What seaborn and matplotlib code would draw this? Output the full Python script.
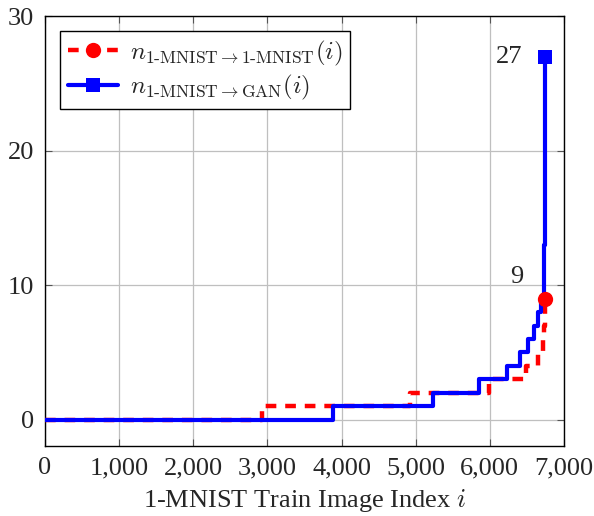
import numpy as np
import pandas as pd
import seaborn as sns
import matplotlib
matplotlib.use('Agg')
import matplotlib.pyplot as plt
from matplotlib.lines import Line2D
from matplotlib.ticker import FuncFormatter

# step curves (index where each new count starts)
mnist_idx = [0, 2930, 4920, 5990, 6490, 6645, 6710, 6730, 6737, 6742]
mnist_n = [0, 1, 2, 3, 4, 5, 6, 7, 8, 9]

gan_idx = [0, 3890, 5230, 5860, 6230, 6400, 6510, 6590, 6645, 6690, 6725, 6734, 6738, 6740, 6742]
gan_n = [0, 1, 2, 3, 4, 5, 6, 7, 8, 9, 11, 13, 17, 21, 27]

lbl_mnist = r'$n_{\text{1-MNIST}\rightarrow\text{1-MNIST}}(i)$'
lbl_gan = r'$n_{\text{1-MNIST}\rightarrow\text{GAN}}(i)$'

sns.set_style('ticks')
plt.rcParams['font.family'] = ['Liberation Serif', 'DejaVu Serif']
plt.rcParams['mathtext.fontset'] = 'cm'

df_m = pd.DataFrame({'i': mnist_idx, 'n': mnist_n})
df_g = pd.DataFrame({'i': gan_idx, 'n': gan_n})

fig = plt.figure(figsize=(5.94, 5.16), dpi=100)
ax = fig.add_axes([0.0758, 0.1357, 0.8737, 0.833])

ax.grid(True, color='#bfbfbf', linewidth=0.9)
ax.set_axisbelow(True)

red_ls = (0, (2.4, 2.0))
sns.lineplot(data=df_m, x='i', y='n', ax=ax, color='red', linewidth=3.2,
             drawstyle='steps-post', linestyle=red_ls,
             sort=False, estimator=None, zorder=3)
sns.lineplot(data=df_g, x='i', y='n', ax=ax, color='blue', linewidth=3.0,
             drawstyle='steps-post', marker='s', markersize=10, markevery=[-1],
             markeredgewidth=0, sort=False, estimator=None, zorder=4)
# end marker of the red curve sits on top of the blue line
ax.plot(mnist_idx[-1:], mnist_n[-1:], 'o', color='red', markersize=11,
        markeredgewidth=0, zorder=5)

ax.set_xlim(0, 7000)
ax.set_ylim(-1.95, 30)
ax.set_xticks(np.arange(0, 7001, 1000))
ax.set_yticks([0, 10, 20, 30])
ax.xaxis.set_major_formatter(FuncFormatter(lambda v, p: f'{int(v):,}'))
ax.tick_params(direction='in', top=True, right=True, length=5, color='#555555',
               labelsize=19, pad=8)
for s in ax.spines.values():
    s.set_color('black')
    s.set_linewidth(1.0)

ax.set_xlabel('1-MNIST Train Image Index $i$', fontsize=19, labelpad=6)
ax.set_ylabel('')

ax.text(mnist_idx[-1] - 290, mnist_n[-1] + 1.6, str(mnist_n[-1]), fontsize=19, ha='right', va='center')
ax.text(gan_idx[-1] - 300, gan_n[-1], str(gan_n[-1]), fontsize=19, ha='right', va='center')

handles = [
    Line2D([], [], color='red', linewidth=3.2, linestyle=red_ls, marker='o',
           markersize=11, markeredgewidth=0),
    Line2D([], [], color='blue', linewidth=3.0, marker='s', markersize=10, markeredgewidth=0),
]
leg = ax.legend(handles, [lbl_mnist, lbl_gan], loc='upper left', fontsize=18,
                frameon=True, fancybox=False, edgecolor='black', framealpha=1,
                borderaxespad=0.6, handlelength=2.0, handletextpad=0.5,
                borderpad=0.3, labelspacing=0.2)
leg.get_frame().set_linewidth(1.0)

fig.savefig('out.png', dpi=100)
